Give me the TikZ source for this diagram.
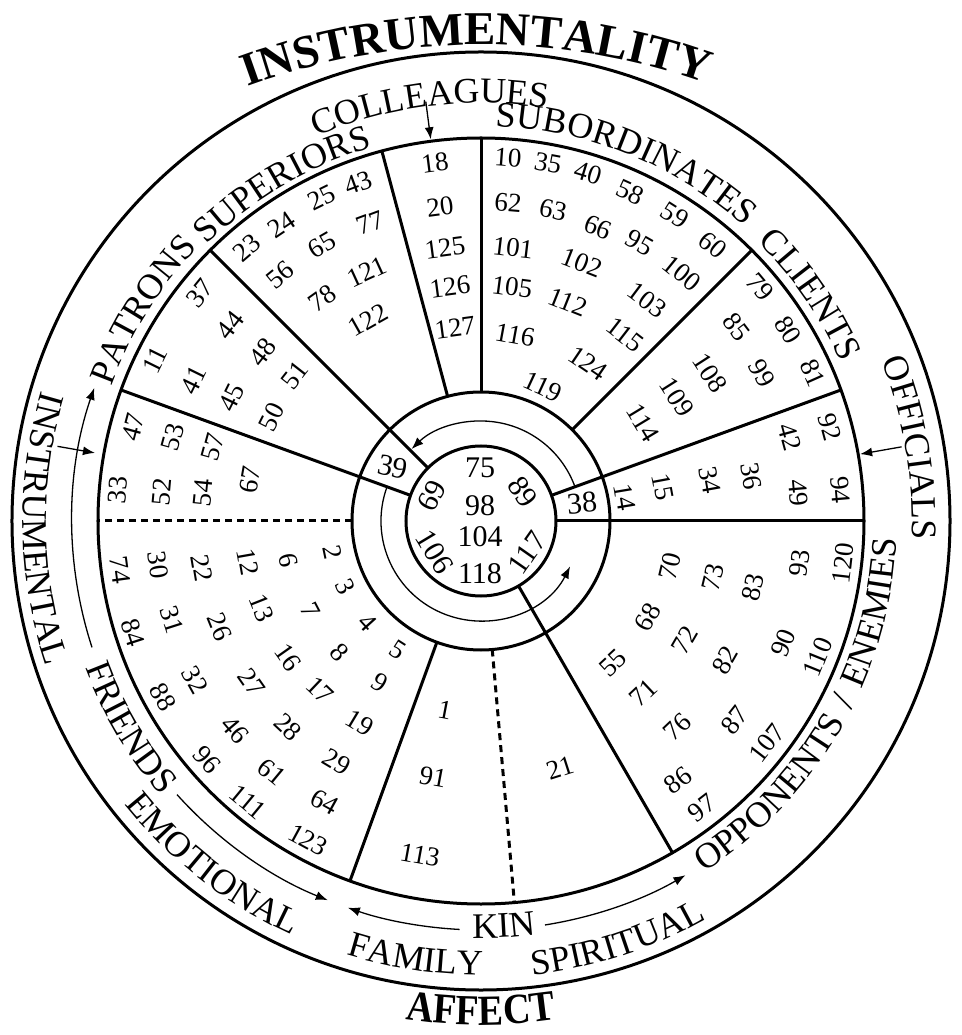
\documentclass[tikz,border=0pt]{standalone}
\usepackage{fontspec}
\setmainfont{Liberation Serif}
\newfontfamily\condfam[FakeStretch=0.88]{Liberation Serif}
\usetikzlibrary{arrows.meta,decorations.text}
\newcommand\labfont{\fontsize{36}{36}\selectfont}
\newcommand\bigfont{\fontsize{47}{47}\selectfont\bfseries}
\newcommand\affont{\condfam\fontsize{43}{43}\selectfont\bfseries}
\newcommand\nm[3]{%
  \pgfmathsetmacro\dx{#1-481}%
  \pgfmathsetmacro\dy{521-#2}%
  \pgfmathsetmacro\th{atan2(\dy,\dx)}%
  \pgfmathsetmacro\rr{\dy>0 ? \th-90 : \th+90}%
  \node[numsty,rotate=\rr] (n#3) at (\dx,\dy) {#3};}
\newcommand\cn[5]{\node[cnum,rotate=#4] (c#5) at (#1-481,521-#2) {#3};}
% radius, centre angle, direction (-1 clockwise, 1 counter-clockwise), font, text
\newcommand\arctext[5]{%
  \path[decorate,decoration={text along path,text align=center,text={|#4|#5}}]
   ({#2-#3*60}:#1) arc[start angle={#2-#3*60}, end angle={#2+#3*60}, radius=#1];}
\begin{document}
\begin{tikzpicture}[x=1pt,y=1pt,
  thk/.style={line width=3pt},
  thn/.style={line width=1.3pt},
  arr/.style={-{Latex[length=12pt,width=9pt]}},
  numsty/.style={font=\fontsize{27}{27}\selectfont,inner sep=0pt},
  cnum/.style={font=\fontsize{30}{30}\selectfont,inner sep=0pt},
  dsh/.style={line width=3pt,dash pattern=on 7pt off 5pt}]
\useasboundingbox (-481,-514) rectangle (480,521);
% circles
\draw[thk] (0,0) circle[radius=469];
\draw[thk] (0,0) circle[radius=383];
\draw[thk] (0,0) circle[radius=129];
\draw[thk] (0,0) circle[radius=75];
% radial lines
\foreach \a in {0,20,135,160,300} \draw[thk] (\a:75) -- (\a:383);
\foreach \a in {45,90,105,250} \draw[thk] (\a:129) -- (\a:383);
\foreach \a in {180,275} \draw[dsh] (\a:129) -- (\a:383);
% inner ring arcs
\draw[thn,arr] (20:100) arc[start angle=20,end angle=134,radius=100];
\draw[thn,arr] (160:100) arc[start angle=160,end angle=333,radius=100];
% outer thin arcs
\draw[thn,arr] (198:409) arc[start angle=198,end angle=161,radius=409];
\draw[thn,arr] (222:409) arc[start angle=222,end angle=248,radius=409];
\draw[thn,arr] (267:409) arc[start angle=267,end angle=251,radius=409];
\draw[thn,arr] (279:409) arc[start angle=279,end angle=300,radius=409];
% small radial arrows
\draw[thn,arr] (97.5:423) -- (97.5:385);
\draw[thn,arr] (10:427) -- (10:385);
\draw[thn,arr] (170:430) -- (170:392);
% labels
\begin{scope}[shift={(0,-198)}]
\arctext{674}{90.4}{-1}{\bigfont}{INSTRUMENTALITY}
\end{scope}
\arctext{418}{97}{-1}{\labfont}{COLLEAGUES}
\arctext{389}{120.5}{-1}{\labfont}{SUPERIORS}
\arctext{395}{68}{-1}{\labfont}{SUBORDINATES}
\arctext{393}{148}{-1}{\labfont}{PATRONS}
\arctext{393}{34.5}{-1}{\labfont}{CLIENTS}
\arctext{431}{9.7}{-1}{\labfont}{OFFICIALS}
\arctext{458}{181}{1}{\labfont}{INSTRUMENTAL}
\arctext{422}{210.5}{1}{\labfont}{FRIENDS}
\arctext{455}{232}{1}{\labfont}{EMOTIONAL}
\arctext{454}{261.5}{1}{\labfont}{FAMILY}
\arctext{457}{288}{1}{\labfont}{SPIRITUAL}
\arctext{417}{273.2}{1}{\labfont}{KIN}
\arctext{416}{330}{1}{\labfont}{OPPONENTS{\hskip 13pt}/{\hskip 13pt}ENEMIES}
\arctext{504}{270}{1}{\affont}{AFFECT}
% centre
\cn{480}{468}{75}{0}{75}
\cn{480}{506}{98}{0}{98}
\cn{480}{537}{104}{0}{104}
\cn{480}{574}{118}{0}{118}
\cn{523}{492}{89}{-55}{89}
\cn{432}{496}{69}{62}{69}
\cn{435}{552}{106}{-59}{106}
\cn{527}{553}{117}{55}{117}
\cn{393}{467}{39}{-12}{39}
\cn{582}{503}{38}{5}{38}
% superiors
\nm{247}{248}{23}\nm{282}{225}{24}\nm{322}{198}{25}\nm{358}{183}{43}
\nm{280}{275}{56}\nm{322}{245}{65}\nm{370}{223}{77}
\nm{322}{298}{78}\nm{367}{272}{121}\nm{368}{320}{122}
% colleagues
\nm{435}{163}{18}\nm{440}{207}{20}\nm{445}{248}{125}\nm{450}{287}{126}\nm{455}{328}{127}
% subordinates
\nm{508}{158}{10}\nm{548}{163}{35}\nm{588}{173}{40}\nm{630}{192}{58}\nm{675}{215}{59}\nm{713}{245}{60}
\nm{508}{203}{62}\nm{553}{210}{63}\nm{598}{227}{66}\nm{640}{243}{95}\nm{682}{273}{100}
\nm{513}{248}{101}\nm{582}{263}{102}\nm{647}{300}{103}
\nm{512}{287}{105}\nm{568}{302}{112}\nm{625}{335}{115}
\nm{515}{335}{116}\nm{588}{363}{124}
\nm{543}{387}{119}
% clients
\nm{760}{287}{79}\nm{788}{330}{80}\nm{813}{373}{81}
\nm{737}{327}{85}\nm{762}{373}{99}
\nm{710}{373}{108}\nm{677}{397}{109}\nm{643}{423}{114}
% officials
\nm{830}{427}{92}\nm{790}{437}{42}\nm{840}{490}{94}\nm{798}{493}{49}\nm{751}{476}{36}\nm{710}{480}{34}\nm{663}{487}{15}\nm{625}{497}{14}
% patrons
\nm{200}{293}{37}\nm{230}{325}{44}\nm{263}{352}{48}\nm{295}{375}{51}
\nm{155}{360}{11}\nm{193}{380}{41}\nm{232}{398}{45}\nm{272}{417}{50}
% 160-180
\nm{133}{427}{47}\nm{173}{437}{53}\nm{213}{447}{57}\nm{250}{480}{67}
\nm{118}{490}{33}\nm{162}{492}{52}\nm{203}{493}{54}
% friends
\nm{120}{570}{74}\nm{158}{565}{30}\nm{202}{568}{22}\nm{248}{562}{12}\nm{288}{560}{6}\nm{333}{552}{2}\nm{345}{587}{3}
\nm{133}{633}{84}\nm{172}{620}{31}\nm{220}{627}{26}\nm{262}{608}{13}\nm{310}{610}{7}\nm{368}{623}{4}
\nm{340}{652}{8}\nm{288}{657}{16}\nm{195}{680}{32}\nm{252}{682}{27}\nm{320}{690}{17}\nm{163}{697}{88}
\nm{398}{650}{5}\nm{380}{683}{9}\nm{360}{723}{19}\nm{288}{727}{28}\nm{235}{730}{46}
\nm{337}{762}{29}\nm{272}{772}{61}\nm{207}{760}{96}
\nm{325}{802}{64}\nm{248}{802}{111}\nm{308}{840}{123}
% kin
\nm{445}{710}{1}\nm{433}{777}{91}\nm{420}{855}{113}\nm{560}{768}{21}
% opponents
\nm{670}{566}{70}\nm{713}{577}{73}\nm{753}{587}{83}\nm{800}{563}{93}\nm{843}{563}{120}
\nm{613}{663}{55}\nm{648}{617}{68}\nm{685}{640}{72}\nm{725}{660}{82}\nm{783}{643}{90}\nm{818}{657}{110}
\nm{643}{693}{71}\nm{677}{727}{76}\nm{735}{720}{87}\nm{767}{743}{107}
\nm{678}{780}{86}\nm{702}{808}{97}
\end{tikzpicture}
\end{document}
